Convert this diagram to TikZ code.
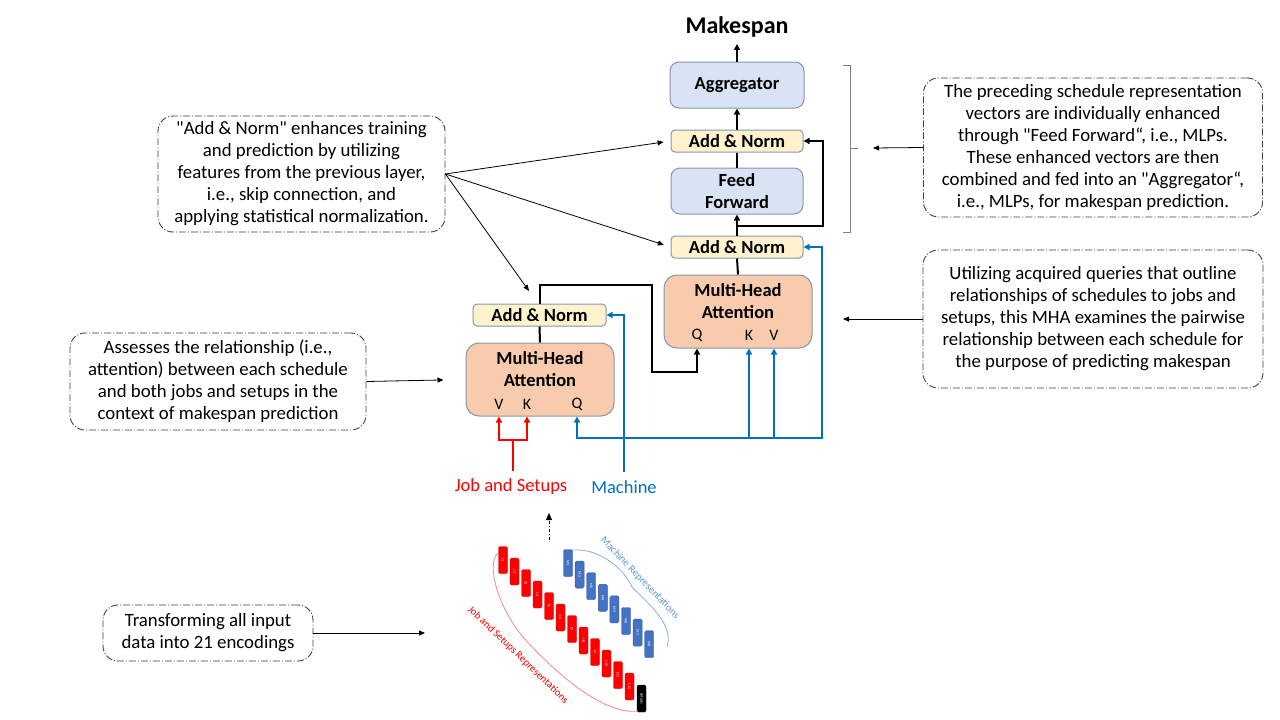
\documentclass[tikz,border=0pt]{standalone}
\usepackage{fontspec}
\setmainfont{Carlito}
\usetikzlibrary{arrows.meta}
\definecolor{ffblue}{HTML}{DAE3F3}
\definecolor{anyellow}{HTML}{FFF2CC}
\definecolor{mhapeach}{HTML}{F8CBAD}
\definecolor{edgegray}{HTML}{8497B0}
\definecolor{linkblue}{HTML}{0070C0}
\definecolor{tokblue}{HTML}{4472C4}
\definecolor{lblblue}{HTML}{5B9BD5}
\definecolor{bracered}{HTML}{F4888A}
\definecolor{braceblue}{HTML}{8FAADC}

\begin{document}
\begin{tikzpicture}[x=1pt,y=-1pt,
  block/.style={draw=edgegray,line width=1pt,align=center,inner sep=0pt,font=\fontsize{18.5}{22}\selectfont\bfseries},
  addnorm/.style={block,fill=anyellow,rounded corners=4pt,minimum width=132pt,minimum height=22pt},
  mlp/.style={block,fill=ffblue,rounded corners=9pt,minimum width=134pt,minimum height=46pt},
  mha/.style={block,fill=mhapeach,rounded corners=13pt,minimum width=148pt,minimum height=73pt},
  mhatitle/.style={align=center,inner sep=0pt,font=\fontsize{18.5}{22}\selectfont\bfseries},
  port/.style={inner sep=0pt,font=\fontsize{16}{18}\selectfont},
  note/.style={draw=black!75,line width=0.9pt,dash pattern=on 7pt off 2pt on 1pt off 2pt,rounded corners=15pt,align=center,inner sep=0pt,font=\fontsize{18.8}{22}\selectfont},
  link/.style={line width=2pt,-{Triangle[length=6pt,width=6pt]}},
  bluelink/.style={link,linkblue},
  redlink/.style={link,red},
  pointer/.style={line width=0.8pt,-{Triangle[length=6pt,width=5pt]}},
  jtok/.style={fill=red,draw=red!85!black,rounded corners=1.5pt,minimum width=27pt,minimum height=9pt,inner sep=0pt,text=white,font=\fontsize{4}{4}\selectfont,rotate=-90},
  mtok/.style={jtok,fill=tokblue,draw=tokblue!80!black}]

\useasboundingbox (0,0) rectangle (1280,720);
\fill[white] (0,0) rectangle (1280,720);

\node[font=\fontsize{24}{28}\selectfont\bfseries,inner sep=0pt,anchor=base] (mk) at (737,33) {Makespan};
\node[mlp] (agg) at (737,85) {Aggregator};
\node[addnorm] (an3) at (737,141) {Add \& Norm};
\node[mlp,minimum width=132pt] (ff) at (737,191) {Feed\\Forward};
\node[addnorm] (an2) at (737,247) {Add \& Norm};
\node[mha] (mha2) at (738,311.5) {};
\node[mhatitle] (mha2t) at (738,301) {Multi-Head\\Attention};
\node[port] (q2) at (697,335) {Q};
\node[port] (k2) at (749,335) {K};
\node[port] (v2) at (774,335) {V};
\node[addnorm,minimum width=133pt] (an1) at (539.5,315) {Add \& Norm};
\node[mha] (mha1) at (540,379.5) {};
\node[mhatitle] (mha1t) at (540,369) {Multi-Head\\Attention};
\node[port] (v1) at (499,404) {V};
\node[port] (k1) at (527,404) {K};
\node[port] (q1) at (577,404) {Q};
\node[font=\fontsize{18.5}{22}\selectfont,text=red,inner sep=0pt] (jobs) at (511,487) {Job and Setups};
\node[font=\fontsize{18.5}{22}\selectfont,text=linkblue,inner sep=0pt] (mach) at (624,487) {Machine};

\draw[link,shorten >=7pt] (agg.north) -- (mk.south);
\draw[link] (an3.north) -- (agg.south);
\draw[line width=2pt] (ff.north) -- (an3.south);
\draw[link] (an2.north) -- (ff.south);
\coordinate (skip2) at (737,226);
\draw[link] (skip2) -| ([xshift=19pt]an3.east) -- (an3.east);
\draw[line width=2pt] (mha2.north) -- (an2.south);
\draw[line width=2pt] (mha1.north) -- (an1.south);
\draw[link] (an1.north) -- ++(0,-19) -| (652,372) -| (q2 |- mha2.south);

\coordinate (qbus) at (822,438);
\draw[line width=2pt,linkblue,{Triangle[length=6pt,width=6pt]}-{Triangle[length=6pt,width=6pt]}] (q1 |- mha1.south) |- (qbus) |- (an2.east);
\foreach \p in {k2,v2} \draw[bluelink] (\p |- qbus) -- (\p |- mha2.south);
\draw[bluelink,shorten <=8pt] (mach.north) |- (an1.east);

\coordinate (jsplit) at (513,440);
\draw[line width=2pt,red,shorten <=8pt] (jsplit |- jobs.north) -- (jsplit);
\draw[redlink] (jsplit) -| (v1 |- mha1.south);
\draw[redlink] (jsplit) -| (k1 |- mha1.south);

\node[note,minimum width=287pt,minimum height=116pt] (nadd) at (301.5,174) {\textquotedbl Add \& Norm\textquotedbl{} enhances training\\and prediction by utilizing\\features from the previous layer,\\i.e., skip connection, and\\applying statistical normalization.};
\node[note,minimum width=339pt,minimum height=139pt] (nff) at (1093,147.5) {The preceding schedule representation\\vectors are individually enhanced\\through \textquotedbl Feed Forward“, i.e., MLPs.\\These enhanced vectors are then\\combined and fed into an \textquotedbl Aggregator“,\\i.e., MLPs, for makespan prediction.};
\node[note,minimum width=340pt,minimum height=138pt] (nmha2) at (1093,319) {Utilizing acquired queries that outline\\relationships of schedules to jobs and\\setups, this MHA examines the pairwise\\relationship between each schedule for\\the purpose of predicting makespan};
\node[note,minimum width=296pt,minimum height=97pt] (nmha1) at (218,381.5) {Assesses the relationship (i.e.,\\attention) between each schedule\\and both jobs and setups in the\\context of makespan prediction};
\node[note,minimum width=210pt,minimum height=56pt] (nenc) at (208,633) {Transforming all input\\data into 21 encodings};

\draw[pointer,shorten >=7pt] (nadd.east) -- (an3.west);
\draw[pointer,shorten >=7pt] (nadd.east) -- (an2.west);
\coordinate (an1tip) at (529,291);
\draw[pointer] (nadd.east) -- (an1tip);
\coordinate (brtip) at (873,148);
\draw[pointer] (nff.west) -- (brtip);
\coordinate (mha2tip) at (843,319);
\draw[pointer] (nmha2.west) -- (mha2tip);
\draw[pointer,shorten >=22pt] (nmha1.east) -- (mha1.west);
\coordinate (enctip) at (425,633);
\draw[pointer] (nenc.east) -- (enctip);

\draw[black!50,line width=0.8pt] (843,65) -| (850,148) -- (858,148) (850,148) |- (843,232);

\coordinate (encout) at (549,540);
\coordinate (encin) at (549,513);
\draw[line width=1pt,dash dot,-{Triangle[length=7pt,width=6pt]}] (encout) -- (encin);

\foreach \i in {1,...,12} \node[jtok] (j\i) at ({503+11.5*(\i-1)},{560+11.5*(\i-1)}) {J\i};
\node[jtok,fill=black,draw=black] (setups) at (641.5,698.5) {Setups};
\foreach \i in {1,...,8} \node[mtok] (m\i) at ({568+11.6*(\i-1)},{563+11.6*(\i-1)}) {M\i};

\draw[bracered,line width=0.8pt] (498,553) .. controls (485,565) and (500,610) .. (523,637) .. controls (545,662) and (600,716) .. (638,711);
\draw[braceblue,line width=0.8pt] (573,550) .. controls (600,548) and (625,570) .. (632,587) .. controls (650,605) and (674,625) .. (667,647);
\node[rotate=-44,text=red,font=\fontsize{10.5}{12}\selectfont,inner sep=0pt] (jrep) at (518,655) {Job and Setups Representations};
\node[rotate=-46,text=lblblue,font=\fontsize{10.5}{12}\selectfont,inner sep=0pt] (mrep) at (640,578) {Machine Representations};
\end{tikzpicture}
\end{document}
